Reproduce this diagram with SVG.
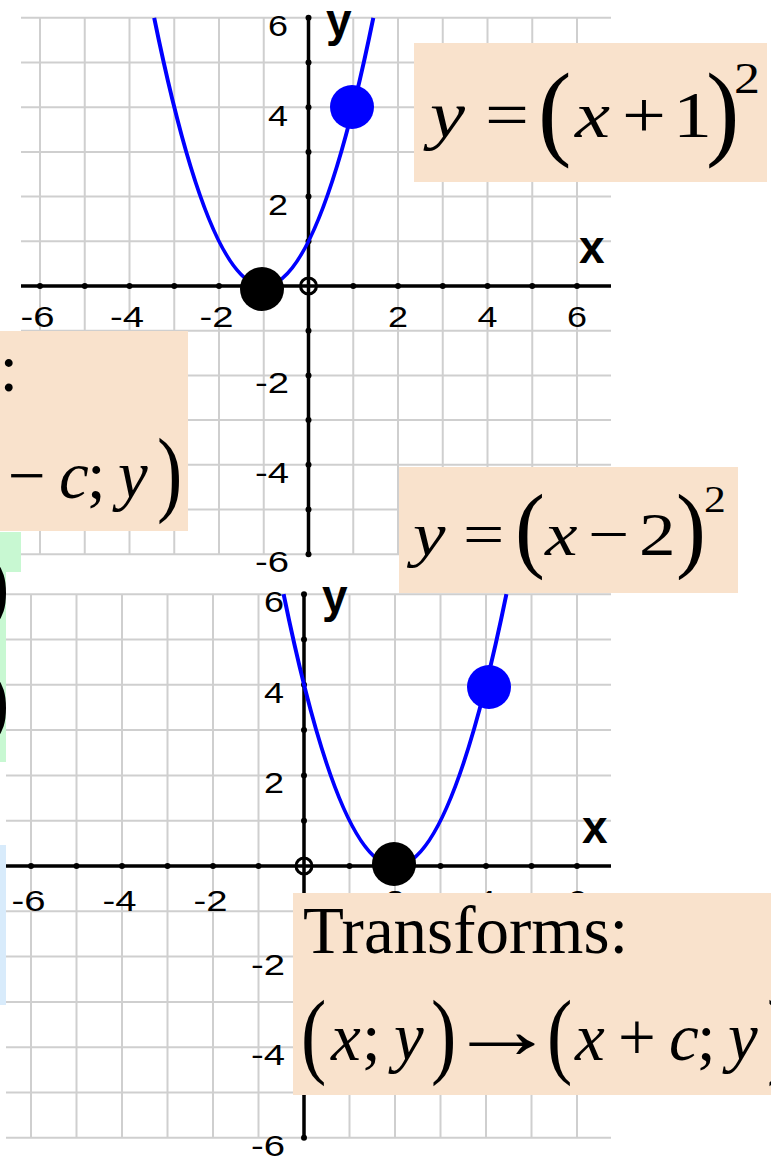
<svg xmlns="http://www.w3.org/2000/svg" width="771" height="1157" viewBox="0 0 771 1157">
<style>
.grid{stroke:#CFCFCF;stroke-width:2;fill:none}
.axis{stroke:#000;stroke-width:3.5;fill:none}
.tick{fill:#000}
.num{font-family:"Liberation Sans",Arial,sans-serif;font-size:29px;fill:#000}
.ne{text-anchor:end}
.nm{text-anchor:middle}
.axl{font-family:"Liberation Sans",Arial,sans-serif;font-size:46px;font-weight:bold;fill:#000}
.curve{fill:none;stroke:#0000FF;stroke-width:4}
.orig{fill:none;stroke:#000;stroke-width:3}
.peach{fill:#F9E2CC}
.m{font-family:"Liberation Serif","Times New Roman",serif;fill:#000}
.i{font-style:italic}
.arr{font-family:"Liberation Serif","DejaVu Serif",serif;fill:#000;font-size:67px}
</style>
<rect width="771" height="1157" fill="#FFFFFF"/>
<g id="bg-green">
<rect x="-10" y="532" width="80" height="230" fill="#C8F8D2"/>
<text class="m" x="-20" y="615" font-size="90">)</text>
<text class="m" x="-20" y="730" font-size="90">)</text>
</g>
<g id="bg-blue">
<rect x="-10" y="845" width="80" height="160" fill="#D8EBFB"/>
</g>
<g id="graph-top">
<rect x="21" y="0" width="750" height="572" fill="#FFFFFF"/>
<g class="grid">
<path d="M40 17.8V554.2M84.75 17.8V554.2M129.5 17.8V554.2M174.25 17.8V554.2M219 17.8V554.2M263.75 17.8V554.2M308.5 17.8V554.2M353.25 17.8V554.2M398 17.8V554.2M442.75 17.8V554.2M487.5 17.8V554.2M532.25 17.8V554.2M577 17.8V554.2"/>
<path d="M21 17.8H611M21 62.5H611M21 107.2H611M21 151.9H611M21 196.6H611M21 241.3H611M21 330.7H611M21 375.4H611M21 420.1H611M21 464.8H611M21 509.5H611M21 554.2H611"/>
</g>
<path class="axis" d="M21 286H611M308.5 16V556"/>
<g class="tick">
<circle cx="40" cy="286" r="3"/><circle cx="84.75" cy="286" r="3"/><circle cx="129.5" cy="286" r="3"/><circle cx="174.25" cy="286" r="3"/><circle cx="219" cy="286" r="3"/><circle cx="263.75" cy="286" r="3"/><circle cx="353.25" cy="286" r="3"/><circle cx="398" cy="286" r="3"/><circle cx="442.75" cy="286" r="3"/><circle cx="487.5" cy="286" r="3"/><circle cx="532.25" cy="286" r="3"/><circle cx="577" cy="286" r="3"/>
<circle cx="308.5" cy="17.8" r="3"/><circle cx="308.5" cy="62.5" r="3"/><circle cx="308.5" cy="107.2" r="3"/><circle cx="308.5" cy="151.9" r="3"/><circle cx="308.5" cy="196.6" r="3"/><circle cx="308.5" cy="241.3" r="3"/><circle cx="308.5" cy="330.7" r="3"/><circle cx="308.5" cy="375.4" r="3"/><circle cx="308.5" cy="420.1" r="3"/><circle cx="308.5" cy="464.8" r="3"/><circle cx="308.5" cy="509.5" r="3"/><circle cx="308.5" cy="554.2" r="3"/>
</g>
<circle class="orig" cx="308.5" cy="286" r="8"/>
<text class="num ne" x="288" y="36" textLength="20" lengthAdjust="spacingAndGlyphs">6</text>
<text class="num ne" x="288" y="126" textLength="20" lengthAdjust="spacingAndGlyphs">4</text>
<text class="num ne" x="288" y="215" textLength="20" lengthAdjust="spacingAndGlyphs">2</text>
<text class="num ne" x="289" y="393" textLength="34" lengthAdjust="spacingAndGlyphs">-2</text>
<text class="num ne" x="289" y="483" textLength="34" lengthAdjust="spacingAndGlyphs">-4</text>
<text class="num ne" x="289" y="572" textLength="34" lengthAdjust="spacingAndGlyphs">-6</text>
<text class="num nm" x="37.5" y="327" textLength="34" lengthAdjust="spacingAndGlyphs">-6</text>
<text class="num nm" x="127" y="327" textLength="34" lengthAdjust="spacingAndGlyphs">-4</text>
<text class="num nm" x="216.5" y="327" textLength="34" lengthAdjust="spacingAndGlyphs">-2</text>
<text class="num nm" x="398" y="327" textLength="20" lengthAdjust="spacingAndGlyphs">2</text>
<text class="num nm" x="487.5" y="327" textLength="20" lengthAdjust="spacingAndGlyphs">4</text>
<text class="num nm" x="577" y="327" textLength="20" lengthAdjust="spacingAndGlyphs">6</text>
<text class="axl" x="579" y="263">x</text>
<text class="axl" x="326" y="36">y</text>
<path class="curve" d="M154.2 17.8Q263.75 554.2 373.3 17.8"/>
<circle cx="262" cy="289" r="22" fill="#000"/>
<circle cx="352" cy="107" r="22" fill="#0000FF"/>
</g>
<g id="graph-bottom">
<rect x="6" y="572" width="765" height="585" fill="#FFFFFF"/>
<g class="grid">
<path d="M31 594.2V1137.8M76.5 594.2V1137.8M122 594.2V1137.8M167.5 594.2V1137.8M213 594.2V1137.8M258.5 594.2V1137.8M304 594.2V1137.8M349.5 594.2V1137.8M395 594.2V1137.8M440.5 594.2V1137.8M486 594.2V1137.8M531.5 594.2V1137.8M577 594.2V1137.8"/>
<path d="M6 594.2H611M6 639.5H611M6 684.8H611M6 730.1H611M6 775.4H611M6 820.7H611M6 911.3H611M6 956.6H611M6 1001.9H611M6 1047.2H611M6 1092.5H611M6 1137.8H611"/>
</g>
<path class="axis" d="M6 866H611M304 592V1140"/>
<g class="tick">
<circle cx="31" cy="866" r="3"/><circle cx="76.5" cy="866" r="3"/><circle cx="122" cy="866" r="3"/><circle cx="167.5" cy="866" r="3"/><circle cx="213" cy="866" r="3"/><circle cx="258.5" cy="866" r="3"/><circle cx="349.5" cy="866" r="3"/><circle cx="395" cy="866" r="3"/><circle cx="440.5" cy="866" r="3"/><circle cx="486" cy="866" r="3"/><circle cx="531.5" cy="866" r="3"/><circle cx="577" cy="866" r="3"/>
<circle cx="304" cy="594.2" r="3"/><circle cx="304" cy="639.5" r="3"/><circle cx="304" cy="684.8" r="3"/><circle cx="304" cy="730.1" r="3"/><circle cx="304" cy="775.4" r="3"/><circle cx="304" cy="820.7" r="3"/><circle cx="304" cy="911.3" r="3"/><circle cx="304" cy="956.6" r="3"/><circle cx="304" cy="1001.9" r="3"/><circle cx="304" cy="1047.2" r="3"/><circle cx="304" cy="1092.5" r="3"/><circle cx="304" cy="1137.8" r="3"/>
</g>
<circle class="orig" cx="304" cy="866" r="8"/>
<text class="num ne" x="284" y="612" textLength="20" lengthAdjust="spacingAndGlyphs">6</text>
<text class="num ne" x="284" y="703" textLength="20" lengthAdjust="spacingAndGlyphs">4</text>
<text class="num ne" x="284" y="793" textLength="20" lengthAdjust="spacingAndGlyphs">2</text>
<text class="num ne" x="285" y="975" textLength="34" lengthAdjust="spacingAndGlyphs">-2</text>
<text class="num ne" x="285" y="1065" textLength="34" lengthAdjust="spacingAndGlyphs">-4</text>
<text class="num ne" x="285" y="1156" textLength="34" lengthAdjust="spacingAndGlyphs">-6</text>
<text class="num nm" x="28.5" y="911" textLength="34" lengthAdjust="spacingAndGlyphs">-6</text>
<text class="num nm" x="119.5" y="911" textLength="34" lengthAdjust="spacingAndGlyphs">-4</text>
<text class="num nm" x="210.5" y="911" textLength="34" lengthAdjust="spacingAndGlyphs">-2</text>
<text class="num nm" x="395" y="911" textLength="20" lengthAdjust="spacingAndGlyphs">2</text>
<text class="num nm" x="486" y="911" textLength="20" lengthAdjust="spacingAndGlyphs">4</text>
<text class="num nm" x="577" y="911" textLength="20" lengthAdjust="spacingAndGlyphs">6</text>
<text class="axl" x="582" y="843">x</text>
<text class="axl" x="322" y="612">y</text>
<path class="curve" d="M283.6 594.2Q395 1137.8 506.4 594.2"/>
<circle cx="394" cy="864" r="22" fill="#000"/>
<circle cx="489" cy="687" r="22" fill="#0000FF"/>
</g>
<g id="box-eq1">
<rect class="peach" x="414" y="43" width="353" height="139"/>
<text class="m i" x="430" y="137" font-size="66" textLength="35" lengthAdjust="spacingAndGlyphs">y</text>
<text class="m" x="485" y="137" font-size="66" textLength="44" lengthAdjust="spacingAndGlyphs">=</text>
<text class="m" font-size="85" transform="translate(538,146.3) scale(1.18,1.24)">(</text>
<text class="m i" x="575" y="137" font-size="66" textLength="35" lengthAdjust="spacingAndGlyphs">x</text>
<text class="m" x="622" y="137" font-size="66" textLength="44" lengthAdjust="spacingAndGlyphs">+</text>
<text class="m" x="673" y="137" font-size="66" textLength="39" lengthAdjust="spacingAndGlyphs">1</text>
<text class="m" font-size="85" transform="translate(706,146.3) scale(1.18,1.24)">)</text>
<text class="m" x="734" y="93" font-size="44" textLength="26" lengthAdjust="spacingAndGlyphs">2</text>
</g>
<g id="box-eq2">
<rect class="peach" x="399" y="467" width="339" height="126"/>
<text class="m i" x="413" y="555" font-size="62" textLength="32.5" lengthAdjust="spacingAndGlyphs">y</text>
<text class="m" x="463" y="555" font-size="62" textLength="41.3" lengthAdjust="spacingAndGlyphs">=</text>
<text class="m" font-size="76" transform="translate(515,560) scale(1.18,1.25)">(</text>
<text class="m i" x="545" y="555" font-size="62" textLength="32.5" lengthAdjust="spacingAndGlyphs">x</text>
<text class="m" x="588" y="555" font-size="62" textLength="41.3" lengthAdjust="spacingAndGlyphs">−</text>
<text class="m" x="639" y="555" font-size="62" textLength="36.6" lengthAdjust="spacingAndGlyphs">2</text>
<text class="m" font-size="76" transform="translate(676,560) scale(1.18,1.25)">)</text>
<text class="m" x="704" y="512" font-size="37" textLength="21.8" lengthAdjust="spacingAndGlyphs">2</text>
</g>
<g id="box-transform-plus">
<rect class="peach" x="293" y="893" width="505" height="202"/>
<text class="m" x="303" y="953" font-size="67">Transforms:</text>
<text class="m" font-size="76" transform="translate(301,1066) scale(1,1.25)">(</text>
<text class="m i" x="331" y="1060" font-size="67">x</text>
<text class="m" x="362" y="1060" font-size="67">;</text>
<text class="m i" x="394" y="1060" font-size="67">y</text>
<text class="m" font-size="76" transform="translate(431,1066) scale(1,1.25)">)</text>
<text class="arr" transform="translate(447,1058) scale(1.64,1.25)">→</text>
<text class="m" font-size="76" transform="translate(547,1066) scale(1,1.25)">(</text>
<text class="m i" x="575" y="1060" font-size="67">x</text>
<text class="m" x="618" y="1060" font-size="67">+</text>
<text class="m i" x="669" y="1060" font-size="67">c</text>
<text class="m" x="697" y="1060" font-size="67">;</text>
<text class="m i" x="728" y="1060" font-size="67">y</text>
<text class="m" font-size="76" transform="translate(767,1066) scale(1,1.25)">)</text>
</g>
<g id="box-transform-minus">
<rect class="peach" x="-317" y="331" width="505" height="200"/>
<g transform="translate(-610,-562)">
<text class="m" x="303" y="953" font-size="67">Transforms:</text>
<text class="m" font-size="76" transform="translate(301,1066) scale(1,1.25)">(</text>
<text class="m i" x="331" y="1060" font-size="67">x</text>
<text class="m" x="362" y="1060" font-size="67">;</text>
<text class="m i" x="394" y="1060" font-size="67">y</text>
<text class="m" font-size="76" transform="translate(431,1066) scale(1,1.25)">)</text>
<text class="arr" transform="translate(447,1058) scale(1.64,1.25)">→</text>
<text class="m" font-size="76" transform="translate(547,1066) scale(1,1.25)">(</text>
<text class="m i" x="575" y="1060" font-size="67">x</text>
<text class="m" x="618" y="1060" font-size="67">−</text>
<text class="m i" x="669" y="1060" font-size="67">c</text>
<text class="m" x="697" y="1060" font-size="67">;</text>
<text class="m i" x="728" y="1060" font-size="67">y</text>
<text class="m" font-size="76" transform="translate(767,1066) scale(1,1.25)">)</text>
</g>
</g>
</svg>
